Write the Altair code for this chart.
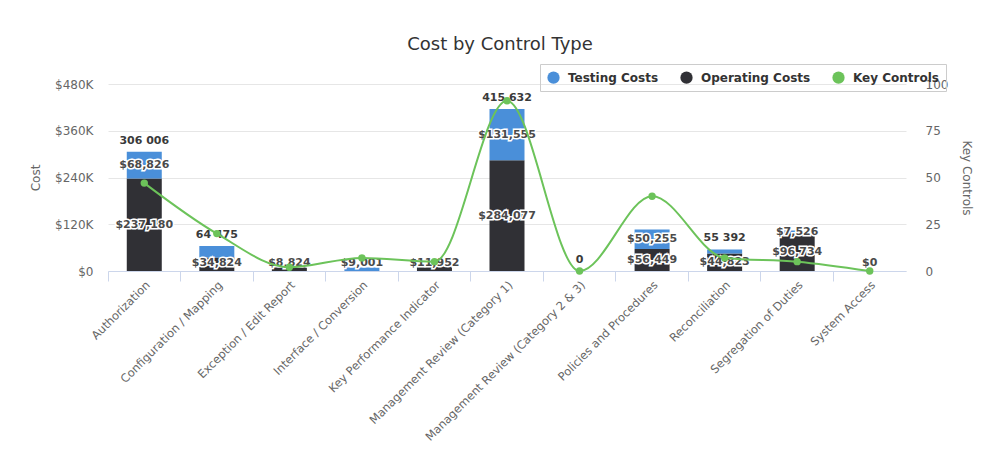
import altair as alt
import pandas as pd

categories = [
    "Authorization",
    "Configuration / Mapping",
    "Exception / Edit Report",
    "Interface / Conversion",
    "Key Performance Indicator",
    "Management Review (Category 1)",
    "Management Review (Category 2 & 3)",
    "Policies and Procedures",
    "Reconciliation",
    "Segregation of Duties",
    "System Access",
]
testing_costs = [68826, 29651, 0, 9001, 0, 131555, 0, 50255, 10569, 7526, 0]
operating_costs = [237180, 34824, 8824, 0, 11952, 284077, 0, 56449, 44823, 96734, 0]
key_controls = [47, 20, 2, 7, 5, 91, 0, 40, 7, 5, 0]
show_testing_label = [True, False, False, True, False, True, False, True, False, True, False]
show_operating_label = [True, True, True, False, True, True, False, True, True, True, True]
show_total_label = [True, True, False, False, False, True, True, False, True, False, False]
cost_ticks = [0, 120000, 240000, 360000, 480000]
control_ticks = [0, 25, 50, 75, 100]
series_names = ["Testing Costs", "Operating Costs", "Key Controls"]
series_colors = ["#4a8fd9", "#303035", "#6cc35a"]

FONT = "DejaVu Sans"
LABEL_MIN = 20000  # keeps segment labels inside the plot, as the original does

rows = []
for i, c in enumerate(categories):
    op, te = operating_costs[i], testing_costs[i]
    rows.append(dict(category=c, series="Operating Costs", value=op, start=0, end=op,
                     show=show_operating_label[i]))
    rows.append(dict(category=c, series="Testing Costs", value=te, start=op, end=op + te,
                     show=show_testing_label[i]))
bars_df = pd.DataFrame(rows)
bars_df["label_y"] = ((bars_df["start"] + bars_df["end"]) / 2).clip(lower=LABEL_MIN)
seg_df = bars_df[bars_df["show"]].copy()

tot_df = pd.DataFrame({
    "category": categories,
    "total": [t + o for t, o in zip(testing_costs, operating_costs)],
    "show": show_total_label,
})
tot_df["label"] = tot_df["total"].map(lambda v: f"{v:,}".replace(",", " "))
tot_df = tot_df[tot_df["show"]]

line_df = pd.DataFrame({"category": categories, "key": key_controls, "series": "Key Controls"})

cost_scale = alt.Scale(domain=[0, 480000])
ctrl_scale = alt.Scale(domain=[0, 100])
x_scale = alt.Scale(paddingInner=0, paddingOuter=0)

legend = alt.Legend(
    orient="none", legendX=432, legendY=-20, direction="horizontal", title=None,
    symbolType="circle", symbolSize=150, symbolStrokeWidth=0, symbolOpacity=1,
    labelFont=FONT, labelFontSize=12, labelFontWeight="bold", labelColor="#333333",
    strokeColor="#cccccc", padding=7, columnPadding=21, labelOffset=8,
)
color = alt.Color("series:N", scale=alt.Scale(domain=series_names, range=series_colors), legend=legend)

x_axis = alt.Axis(
    title=None, labelAngle=-45, labelFont=FONT, labelFontSize=11.5, labelColor="#666666",
    bandPosition=0, tickSize=10, tickColor="#ccd6eb", labelLimit=400,
    domainColor="#ccd6eb", labelPadding=-2, grid=False,
)
cost_axis = alt.Axis(
    values=cost_ticks, labelExpr="datum.value == 0 ? '$0' : '$' + (datum.value / 1000) + 'K'",
    domain=False, ticks=False, grid=True, gridColor="#e6e6e6", labelPadding=15,
    labelFont=FONT, labelFontSize=12, labelColor="#666666",
    titleFont=FONT, titleFontSize=12, titleColor="#666666", titleFontWeight="normal",
    titlePadding=12)
ctrl_axis = alt.Axis(
    orient="right", values=control_ticks, domain=False, ticks=False, grid=False,
    labelPadding=19, labelFont=FONT, labelFontSize=12, labelColor="#666666",
    titleFont=FONT, titleFontSize=12, titleColor="#666666", titleFontWeight="normal",
    titlePadding=12)

x = alt.X("category:N", sort=categories, scale=x_scale, axis=x_axis, title=None)


def cost_y(field):
    return alt.Y(field, scale=cost_scale, axis=cost_axis, title="Cost")


def ctrl_y(field):
    return alt.Y(field, scale=ctrl_scale, axis=ctrl_axis, title="Key Controls")


bars = alt.Chart(bars_df).mark_bar(size=35).encode(
    x=x, y=cost_y("start:Q"), y2="end", color=color)

seg_halo = alt.Chart(seg_df).mark_text(
    font=FONT, fontSize=11, fontWeight="bold", stroke="white", strokeWidth=3,
    fill="white", baseline="middle").encode(
    x=x, y=cost_y("label_y:Q"), text=alt.Text("value:Q", format="$,.0f"))
seg_text = alt.Chart(seg_df).mark_text(
    font=FONT, fontSize=11, fontWeight="bold", color="#4a4a4a", baseline="middle").encode(
    x=x, y=cost_y("label_y:Q"), text=alt.Text("value:Q", format="$,.0f"))
tot_text = alt.Chart(tot_df).mark_text(
    font=FONT, fontSize=11, fontWeight="bold", color="#3a3a3a", baseline="alphabetic", dy=-8).encode(
    x=x, y=cost_y("total:Q"), text="label:N")

left = alt.layer(bars, seg_halo, seg_text, tot_text)

line = alt.Chart(line_df).mark_line(interpolate="monotone", strokeWidth=2).encode(
    x=x, y=ctrl_y("key:Q"), color=color)
points = alt.Chart(line_df).mark_point(filled=True, size=55, opacity=1).encode(
    x=x, y=ctrl_y("key:Q"), color=color)

right = alt.layer(line, points)

chart = alt.layer(left, right).resolve_scale(y="independent").properties(
    width=798, height=187,
    padding={"left": 100, "top": 76, "right": 76, "bottom": 173},
    autosize=alt.AutoSizeParams(type="none"),
    background="white",
    title=alt.TitleParams("Cost by Control Type", font=FONT, fontSize=18, fontWeight="normal",
                          color="#333333", offset=10, dx=-7),
).configure_view(stroke=None)

chart.save("out.html", embed_options={"renderer": "svg", "actions": False})
